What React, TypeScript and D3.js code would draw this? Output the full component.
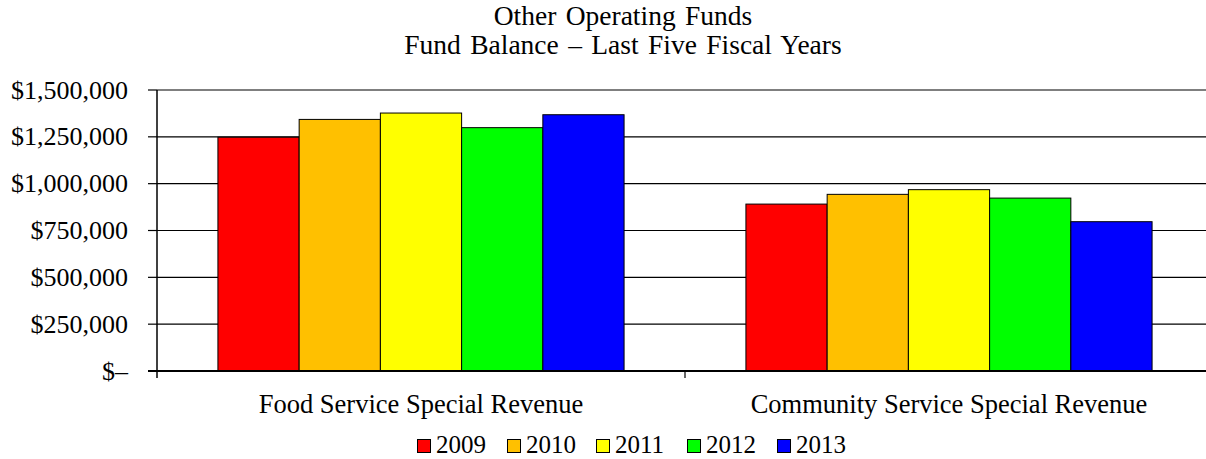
import React from "react";
import * as d3 from "d3";

const categories = ["Food Service Special Revenue", "Community Service Special Revenue"];
const years = ["2009", "2010", "2011", "2012", "2013"];
const colors = ["#FF0000", "#FFC000", "#FFFF00", "#00FF00", "#0000FF"];
const values2009 = [1248000, 891000];
const values2010 = [1343000, 943000];
const values2011 = [1377000, 968000];
const values2012 = [1299000, 923000];
const values2013 = [1368000, 797000];
const seriesValues = [values2009, values2010, values2011, values2012, values2013];
const yTicks = [0, 250000, 500000, 750000, 1000000, 1250000, 1500000];
const titleLines = ["Other Operating Funds", "Fund Balance \u2013 Last Five Fiscal Years"];

const W = 1206;
const H = 459;
const FONT = "Liberation Serif, Times New Roman, serif";
const TS = { fontFamily: FONT };

export default function App() {
  const left = 157;
  const right = 1213;
  const top = 90;
  const bottom = 371;

  const x0 = d3.scaleBand<string>().domain(categories).range([left, right]).paddingInner(0).paddingOuter(0);
  const bw = x0.bandwidth();
  const gapFrac = 1.5 / 6.5;
  const x1 = d3
    .scaleBand<string>()
    .domain(years)
    .range([(bw * gapFrac) / 2, bw - (bw * gapFrac) / 2])
    .padding(0);
  const y = d3.scaleLinear().domain([0, 1500000]).range([bottom, top]);
  const fmt = d3.format("$,");
  const tickLabel = (v: number) => (v === 0 ? "$\u2013" : fmt(v));

  const legendPos = [417, 507, 596, 687, 777];

  return (
    <svg
      width={W}
      height={H}
      style={{ position: "absolute", left: 0, top: 0, background: "#fff", fontFamily: FONT }}
    >
      <rect x={0} y={0} width={W} height={H} fill="#fff" />
      {titleLines.map((t, i) => (
        <text key={t} x={623} y={25 + i * 29} textAnchor="middle" fontSize={27.5} fill="#000" style={{ ...TS, wordSpacing: "2.5px" }}>
          {t}
        </text>
      ))}
      {yTicks.slice(1).map((v) => (
        <line key={v} x1={left} x2={right} y1={y(v)} y2={y(v)} stroke="#000" strokeWidth={1.2} />
      ))}
      {yTicks.map((v) => (
        <g key={"t" + v}>
          <line x1={148} x2={left} y1={y(v)} y2={y(v)} stroke="#000" strokeWidth={1.2} />
          <text x={128} y={y(v)} dy="0.33em" textAnchor="end" fontSize={26} fill="#000" style={TS}>
            {tickLabel(v)}
          </text>
        </g>
      ))}
      {categories.map((c, ci) => (
        <g key={c} transform={`translate(${x0(c)},0)`}>
          {years.map((yr, si) => {
            const v = seriesValues[si][ci];
            return (
              <rect
                key={yr}
                x={x1(yr)}
                y={y(v)}
                width={x1.bandwidth()}
                height={y(0) - y(v)}
                fill={colors[si]}
                stroke="#000"
                strokeWidth={1}
              />
            );
          })}
        </g>
      ))}
      <line x1={left} x2={left} y1={top} y2={bottom + 7} stroke="#000" strokeWidth={1.5} />
      <line x1={148} x2={right} y1={bottom} y2={bottom} stroke="#000" strokeWidth={2} />
      {categories.slice(1).map((c) => (
        <line key={"ct" + c} x1={x0(c)} x2={x0(c)} y1={bottom} y2={bottom + 7} stroke="#000" strokeWidth={1.2} />
      ))}
      {categories.map((c) => (
        <text key={"cl" + c} x={(x0(c) as number) + bw / 2} y={413} textAnchor="middle" fontSize={26.5} fill="#000" style={TS}>
          {c}
        </text>
      ))}
      {years.map((yr, i) => (
        <g key={"lg" + yr} transform={`translate(${legendPos[i]},0)`}>
          <rect x={0.5} y={439.5} width={13} height={13} fill={colors[i]} stroke="#000" strokeWidth={1} />
          <text x={19} y={452.5} fontSize={25} fill="#000" style={TS}>
            {yr}
          </text>
        </g>
      ))}
    </svg>
  );
}
